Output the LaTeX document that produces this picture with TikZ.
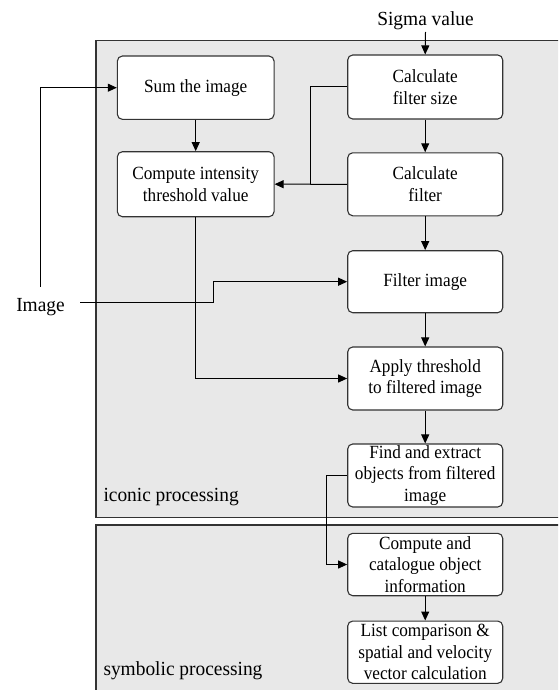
\documentclass[tikz,border=0pt]{standalone}
\usepackage{fontspec}
\setmainfont{Liberation Serif}[FakeStretch=0.925]
\newfontfamily\labelfont{Liberation Serif}[FakeStretch=0.97]
\usetikzlibrary{arrows.meta}
\definecolor{panelgray}{HTML}{E8E8E8}
\definecolor{edgegray}{HTML}{333333}
\tikzset{
  x=1pt, y=-1pt,
  panel/.style={draw=edgegray, line width=1.1pt, fill=panelgray},
  stepbox/.style={draw=edgegray, line width=1.1pt, fill=white, rounded corners=5pt,
    minimum width=155pt, minimum height=63pt, inner sep=0pt, align=center,
    font=\fontsize{18.6}{21.6}\selectfont},
  caption/.style={inner sep=0pt, font=\labelfont\fontsize{20}{24}\selectfont},
  flow/.style={draw=black, line width=1pt, -{Triangle[length=9pt,width=8pt]}},
  wire/.style={draw=black, line width=1pt}
}
\begin{document}
\begin{tikzpicture}
\clip (0,0) rectangle (558,690);

% processing panels
\path[panel] (96,40.7) rectangle (575,517.3);
\path[panel] (96,525) rectangle (575,705);
\node[caption, anchor=base west] (iconic) at (103.3,501) {iconic processing};
\node[caption, anchor=base west] (symbolic) at (103.3,675) {symbolic processing};

% inputs
\node[caption, anchor=base] (sigma) at (425.5,26) {Sigma value};
\node[caption, anchor=base] (image) at (40.5,311.5) {Image};

% left column
\node[stepbox, minimum width=156.7pt, minimum height=63.3pt] (sum) at (195.7,87.7) {Sum the image};
\node[stepbox, minimum width=156.7pt, minimum height=65pt] (compute) at (195.7,184.2) {Compute intensity\\threshold value};

% right column
\node[stepbox, minimum height=64pt] (calcsize) at (425.2,87) {Calculate\\filter size};
\node[stepbox] (calcfilter) at (425.2,184.3) {Calculate\\filter};
\node[stepbox, minimum height=62pt] (filterimg) at (425.2,281.7) {Filter image};
\node[stepbox] (apply) at (425.2,378.5) {Apply threshold\\to filtered image};
\node[stepbox] (find) at (425.2,475.5) {Find and extract\\objects from filtered\\image};
\node[stepbox, minimum height=62.4pt] (catalogue) at (425.2,564.5) {Compute and\\catalogue object\\information};
\node[stepbox, minimum height=62.3pt] (list) at (425.2,652.2) {List comparison \&\\spatial and velocity\\vector calculation};

% junction points
\coordinate (sizejoin) at (310,184.3);
\coordinate (imgstart) at (80,302.7);
\coordinate (imgturn) at (213.3,302.7);
\coordinate (findturn) at (326,475.5);

% vertical flow
\draw[flow] (sigma.south |- 0,32) -- (calcsize.north);
\draw[flow] (sum) -- (compute);
\draw[flow] (calcsize) -- (calcfilter);
\draw[flow] (calcfilter) -- (filterimg);
\draw[flow] (filterimg) -- (apply);
\draw[flow] (apply) -- (find);
\draw[flow] (catalogue) -- (list);

% filter size feeds the threshold computation
\draw[wire] (calcsize.west) -| (sizejoin);
\draw[flow] (calcfilter.west) -- (compute.east);

% image input
\draw[flow] (image.north |- 0,286.7) |- (sum.west);
\draw[flow] (imgstart) -- (imgturn) |- (filterimg.west);

% threshold value to threshold step
\draw[flow] (compute.south) |- (apply.west);

% extracted objects go to the symbolic stage
\draw[flow] (find.west) -- (findturn) |- (catalogue.west);
\end{tikzpicture}
\end{document}
